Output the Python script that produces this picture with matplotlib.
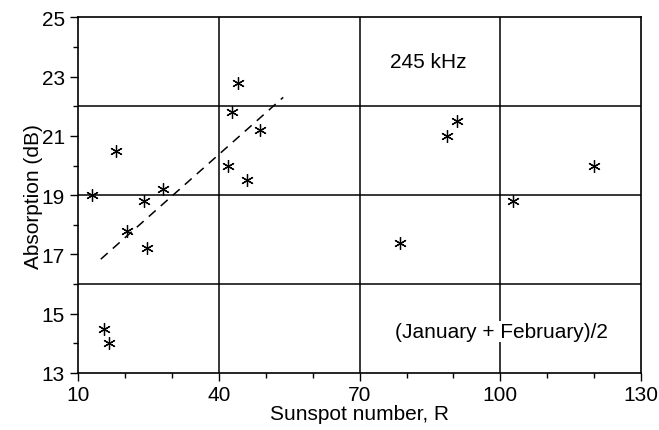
import matplotlib
matplotlib.use("Agg")
import matplotlib.pyplot as plt
import numpy as np

plt.rcParams['font.family'] = ['Liberation Sans', 'DejaVu Sans']

sunspot = [13.0, 18.0, 20.3, 24.0, 24.7, 28.0, 15.5, 16.6, 42.0, 42.8, 44.0, 48.7, 46.0,
           90.7, 88.7, 120.0, 102.6, 78.6]
absorption = [19.0, 20.5, 17.8, 18.8, 17.2, 19.2, 14.5, 14.0, 20.0, 21.8, 22.8, 21.2, 19.5,
              21.5, 21.0, 20.0, 18.8, 17.4]
fit_x = [14.8, 53.7]
fit_y = [16.84, 22.3]

x_major = [10, 40, 70, 100, 130]
y_major = [13, 15, 17, 19, 21, 23, 25]
x_grid = [40, 70, 100]
y_grid = [16, 19, 22]

fig = plt.figure(figsize=(6.59, 4.31), dpi=100)
ax = fig.add_axes([0.1188, 0.1323, 0.9727 - 0.1188, 0.9575 - 0.1323])
ax.set_xlim(10, 130)
ax.set_ylim(13, 25)

for g in x_grid:
    ax.axvline(g, color='black', lw=1.1, zorder=1)
for g in y_grid:
    ax.axhline(g, color='black', lw=1.1, zorder=1)

ax.plot(fit_x, fit_y, color='black', lw=1.1, ls=(0, (6, 4.5)), zorder=2)
ax.plot(sunspot, absorption, ls='none', marker=(6, 2, 0), ms=9, mew=0.9,
        color='black', zorder=3)

ax.text(84.6, 23.5, '245 kHz', ha='center', va='center', fontsize=15, zorder=4)
ax.text(100.3, 14.4, '(January + February)/2', ha='center', va='center', fontsize=15,
        zorder=4, bbox=dict(facecolor='white', edgecolor='none', pad=1))

ax.set_xticks(x_major)
ax.set_xticks(np.arange(10, 131, 10), minor=True)
ax.set_yticks(y_major)
ax.set_yticks(np.arange(13, 26, 1), minor=True)
ax.tick_params(axis='both', which='major', direction='out', length=5.5, width=1, labelsize=15)
ax.tick_params(axis='both', which='minor', direction='out', length=3.5, width=1)
ax.tick_params(axis='x', which='major', pad=3)
ax.tick_params(axis='y', which='major', pad=4)

for s in ax.spines.values():
    s.set_linewidth(1.2)

ax.set_xlabel('Sunspot number, R', fontsize=15, labelpad=0)
ax.set_ylabel('Absorption (dB)', fontsize=15, labelpad=-1)

fig.savefig('out.png', dpi=100)
